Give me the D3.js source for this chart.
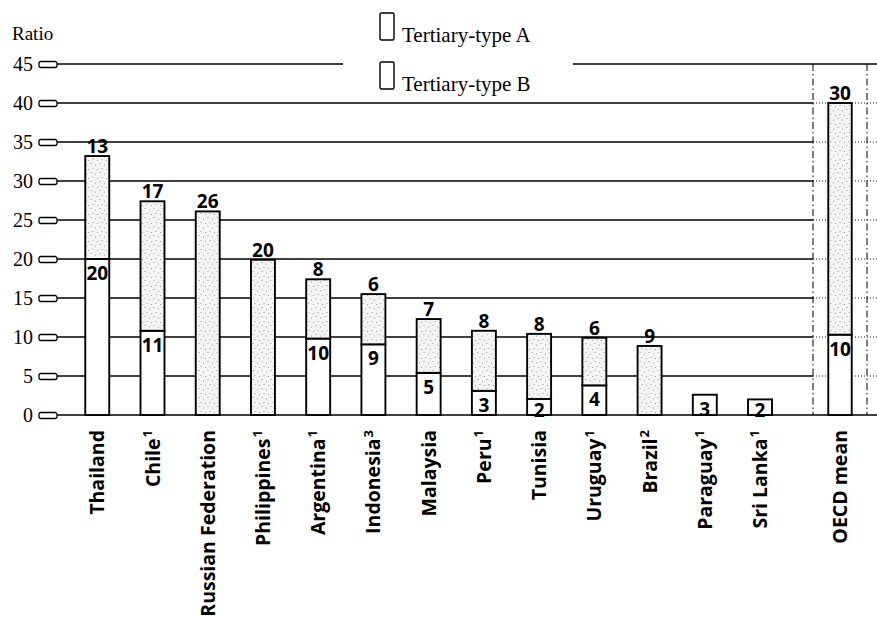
<!DOCTYPE html>
<html>
<head>
<meta charset="utf-8">
<script src="https://cdn.jsdelivr.net/npm/d3@7"></script>
<style>
  html, body { margin: 0; padding: 0; background: #fff; }
  svg { display: block; }
</style>
</head>
<body>
<script>
// ---- data ----
const categories = ["Thailand", "Chile", "Russian Federation", "Philippines", "Argentina", "Indonesia", "Malaysia", "Peru", "Tunisia", "Uruguay", "Brazil", "Paraguay", "Sri Lanka"];
const footnotes  = ["", "1", "", "1", "1", "3", "", "1", "", "1", "2", "1", "1"];
// Tertiary-type B (lower, white segment)
const typeB = [20.0, 10.8, 0, 0, 9.8, 9.06, 5.4, 3.1, 2.05, 3.8, 0, 2.6, 2.0];
// Tertiary-type A (upper, stippled segment)
const typeA = [13.2, 16.6, 26.1, 19.9, 7.6, 6.44, 6.9, 7.7, 8.35, 6.1, 8.85, 0, 0];
const oecdName = "OECD mean";
const oecdB = 10.3;
const oecdA = 29.7;
const yTicks = [0, 5, 10, 15, 20, 25, 30, 35, 40, 45];
const legendLabels = ["Tertiary-type A", "Tertiary-type B"];

// ---- setup ----
const W = 877, H = 618;
const svg = d3.select("body").append("svg").attr("width", W).attr("height", H);
const serif = "'Liberation Serif', 'DejaVu Serif', serif";
const sans = "'Open Sans', 'Noto Sans', sans-serif";

const defs = svg.append("defs");
const pat = defs.append("pattern").attr("id", "stipple")
  .attr("patternUnits", "userSpaceOnUse").attr("width", 9).attr("height", 9);
pat.append("rect").attr("width", 9).attr("height", 9).attr("fill", "#f5f5f5");
[[1, 1.5], [5.5, 3], [3, 6.5], [7.5, 7.5]].forEach(([cx, cy]) =>
  pat.append("circle").attr("cx", cx).attr("cy", cy).attr("r", 0.55).attr("fill", "#888"));

const y = d3.scaleLinear().domain([0, 45]).range([415, 64]);
const x = d3.scaleBand().domain(categories).range([69.65, 787.65])
  .paddingInner(0.566).paddingOuter(0.283);
const xo = d3.scaleBand().domain([oecdName]).range([813, 867])
  .paddingInner(0.566).paddingOuter(0.283);

const plotL = 57, boxL = 813, boxR = 867;

// ---- gridlines ----
const grid = svg.append("g");
yTicks.forEach(t => {
  const yy = y(t);
  if (t === 45) {
    grid.append("line").attr("x1", plotL).attr("x2", 343).attr("y1", yy).attr("y2", yy);
    grid.append("line").attr("x1", 573).attr("x2", W).attr("y1", yy).attr("y2", yy);
  } else if (t === 0) {
    grid.append("line").attr("x1", plotL).attr("x2", W).attr("y1", yy).attr("y2", yy);
  } else {
    grid.append("line").attr("x1", plotL).attr("x2", boxL).attr("y1", yy).attr("y2", yy);
    grid.append("line").attr("x1", boxL).attr("x2", W).attr("y1", yy).attr("y2", yy)
      .attr("stroke-dasharray", "1,2").attr("stroke-width", 0.9);
  }
});
grid.selectAll("line").attr("stroke", "#000").filter(function () {
  return !this.getAttribute("stroke-width");
}).attr("stroke-width", 1.3);

// OECD dash-dot frame
[boxL, boxR].forEach(xx => {
  svg.append("line").attr("x1", xx).attr("x2", xx).attr("y1", y(45)).attr("y2", y(0))
    .attr("stroke", "#000").attr("stroke-width", 1)
    .attr("stroke-dasharray", "7,3,1.5,3");
});

// ---- y axis ----
const yAxis = svg.append("g").attr("transform", `translate(${plotL},0)`)
  .call(d3.axisLeft(y).tickValues(yTicks).tickSize(0).tickPadding(24));
yAxis.select(".domain").remove();
yAxis.selectAll(".tick text").attr("font-family", serif).attr("font-size", 20).attr("fill", "#000");
yAxis.selectAll(".tick").append("rect")
  .attr("x", -18).attr("y", -3).attr("width", 18).attr("height", 6)
  .attr("rx", 2).attr("fill", "#fff").attr("stroke", "#000").attr("stroke-width", 1.3);

svg.append("text").attr("x", 12).attr("y", 40).text("Ratio")
  .attr("font-family", serif).attr("font-size", 19);

// ---- legend ----
legendLabels.forEach((lab, i) => {
  const g = svg.append("g").attr("transform", `translate(380,${13 + i * 49})`);
  g.append("rect").attr("x", 0).attr("y", 0).attr("width", 14).attr("height", 27)
    .attr("rx", 1.5).attr("fill", "#fff").attr("stroke", "#000").attr("stroke-width", 1.4);
  g.append("text").attr("x", 22).attr("y", 29).text(lab)
    .attr("font-family", serif).attr("font-size", 21);
});

// ---- bars ----
const rows = categories.map((c, i) => ({ name: c, B: typeB[i], A: typeA[i], sc: x }));
rows.push({ name: oecdName, B: oecdB, A: oecdA, sc: xo });

const bars = svg.append("g");
rows.forEach(d => {
  const x0 = d.sc(d.name), bw = d.sc.bandwidth(), cx = x0 + bw / 2;
  if (d.B > 0) {
    bars.append("rect").attr("x", x0).attr("y", y(d.B)).attr("width", bw)
      .attr("height", y(0) - y(d.B)).attr("fill", "#fff")
      .attr("stroke", "#000").attr("stroke-width", 1.9);
  }
  if (d.A > 0) {
    bars.append("rect").attr("x", x0).attr("y", y(d.B + d.A)).attr("width", bw)
      .attr("height", y(d.B) - y(d.B + d.A)).attr("fill", "url(#stipple)")
      .attr("stroke", "#000").attr("stroke-width", 1.9);
    bars.append("text").attr("x", cx).attr("y", y(d.B + d.A) - 3)
      .attr("text-anchor", "middle").text(Math.round(d.A))
      .attr("font-family", sans).attr("font-weight", 700).attr("font-size", 19);
  }
  if (d.B > 0) {
    bars.append("text").attr("x", cx).attr("y", Math.min(y(d.B) + 21, y(0) + 2))
      .attr("text-anchor", "middle").text(Math.round(d.B))
      .attr("font-family", sans).attr("font-weight", 700).attr("font-size", 19);
  }
});

// ---- category labels ----
const labs = categories.map((c, i) => ({ name: c, fn: footnotes[i], sc: x }));
labs.push({ name: oecdName, fn: "", sc: xo });
labs.forEach(d => {
  const cx = d.sc(d.name) + d.sc.bandwidth() / 2;
  const t = svg.append("text")
    .attr("transform", `translate(${cx},430) rotate(-90)`)
    .attr("text-anchor", "end").attr("dy", "0.36em")
    .attr("font-family", sans).attr("font-weight", 700).attr("font-size", 19.5);
  t.append("tspan").text(d.name);
  if (d.fn) {
    t.append("tspan").text(d.fn).attr("font-size", 13).attr("dy", "-0.6em").attr("dx", 1);
  }
});
</script>
</body>
</html>
